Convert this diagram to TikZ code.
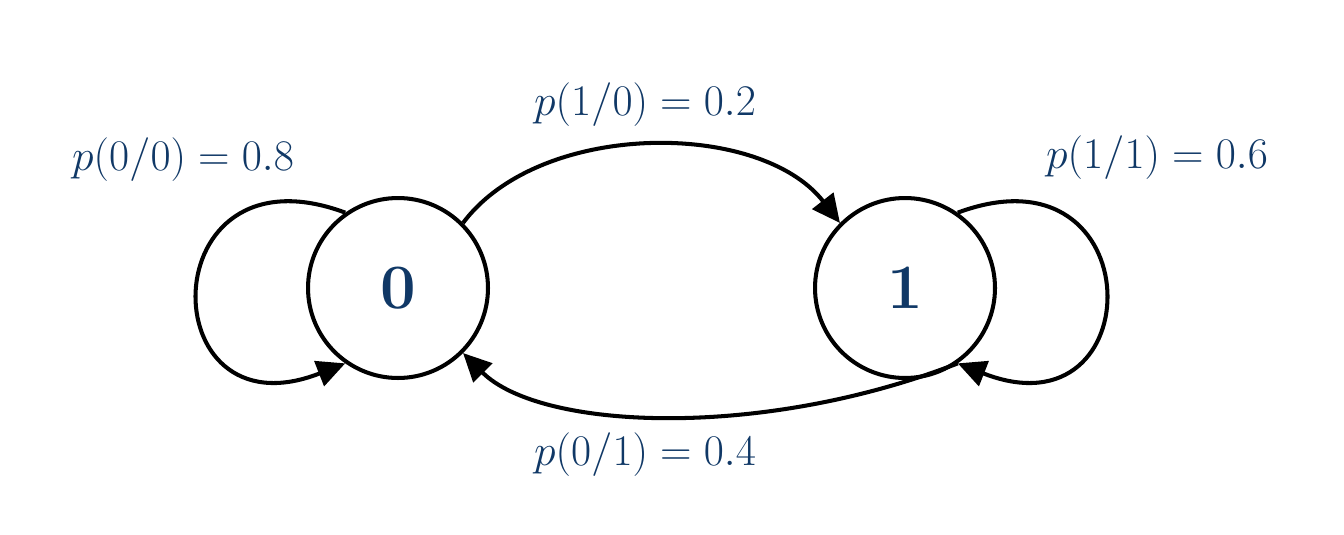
\documentclass[tikz,border=0pt]{standalone}
\usetikzlibrary{arrows.meta}
\definecolor{lbl}{RGB}{16,56,102}
\begin{document}
\begin{tikzpicture}[x=0.02cm,y=-0.02cm,
  st/.style={circle,draw,line width=2.3pt,minimum size=3.6cm,inner sep=0pt,font=\fontsize{36}{40}\selectfont\bfseries,text=lbl},
  lb/.style={font=\fontsize{45}{50}\selectfont,text=lbl},
  ar/.style={line width=2.3pt,-{Triangle[length=16pt,width=15pt]}}]
\useasboundingbox (0,0) rectangle (1344,534);
\node[st] (a) at (398,288) {0};
\node[st] (b) at (905,288) {1};
\draw[ar] (a.125) .. controls (150,140) and (150,440) .. (a.235);
\draw[ar] (b.55) .. controls (1153,140) and (1153,440) .. (b.305);
\draw[ar] (a.45) .. controls (540,120) and (760,120) .. (b.135);
\draw[ar] (b.305) .. controls (760,440) and (540,430) .. (a.315);
\node[lb] (l1) at (183,160) {$p(0/0)=0.8$};
\node[lb] (l2) at (645,105) {$p(1/0)=0.2$};
\node[lb] (l3) at (1157,158) {$p(1/1)=0.6$};
\node[lb] (l4) at (645,455) {$p(0/1)=0.4$};
\end{tikzpicture}
\end{document}
